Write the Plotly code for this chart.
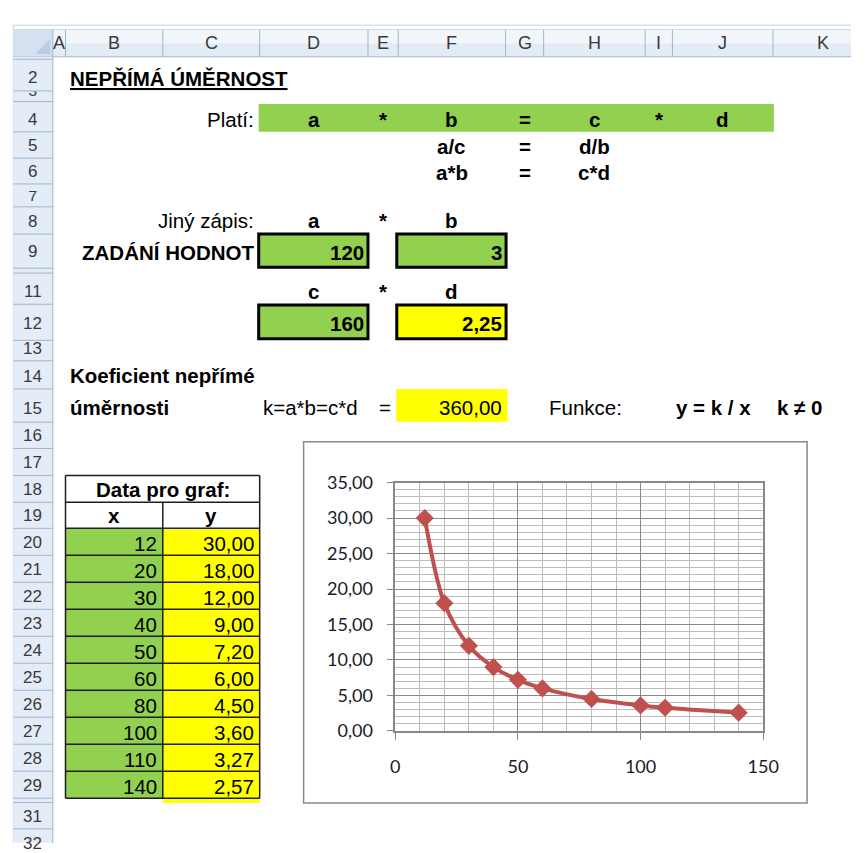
import plotly.graph_objects as go

W, H = 867, 853

# ---------------- data ----------------
x_values = [12, 20, 30, 40, 50, 60, 80, 100, 110, 140]
y_values = [30.00, 18.00, 12.00, 9.00, 7.20, 6.00, 4.50, 3.60, 3.27, 2.57]
a_val = 120
b_val = 3
c_val = 160
d_val = 2.25
k_val = 360.00
column_letters = ["A", "B", "C", "D", "E", "F", "G", "H", "I", "J", "K"]
x_tick_values = [0, 50, 100, 150]
y_tick_values = [0, 5, 10, 15, 20, 25, 30, 35]


def cz(v, dec=2):
    return f"{v:.{dec}f}".replace(".", ",")


# ---------------- sheet geometry (pixels) ----------------
COL_EDGES = [49, 62, 161.7, 261, 372, 403, 513, 552, 656, 684, 787, 890]
COL = {L: (COL_EDGES[i], COL_EDGES[i + 1]) for i, L in enumerate(column_letters)}


def cc(L):
    return (COL[L][0] + COL[L][1]) / 2


ROW = {1: (46, 48.5), 2: (48.5, 81), 3: (81, 92), 4: (92, 123), 5: (123, 150), 6: (150, 176.5),
       7: (176.5, 200), 8: (200, 228), 9: (228, 263), 10: (263, 268), 11: (268, 300), 12: (300, 337),
       13: (337, 358), 14: (358, 387), 15: (387, 421), 16: (421, 448), 17: (448, 475.7),
       18: (475.7, 503.3), 19: (503.3, 530)}
for r in range(20, 30):
    ROW[r] = (530 + 27.7 * (r - 20), 530 + 27.7 * (r - 19))
ROW[30] = (807, 811.5)
ROW[31] = (811.5, 838.5)
ROW[32] = (838.5, 866)

GREEN = "#92D050"
YELLOW = "#FFFF00"
HDR_LINE = "#9EB6CE"
CELL_FONT = "Liberation Sans, Arial, sans-serif"
HDR_TXT = "#3a3a3a"


def px(x):
    return x / W


def py(y):
    return 1 - y / H


shapes = []
annotations = []


def rect(x0, y0, x1, y1, fill=None, line=None, lw=1):
    shapes.append(dict(type="rect", xref="paper", yref="paper",
                       x0=px(x0), x1=px(x1), y0=py(y1), y1=py(y0),
                       fillcolor=fill or "rgba(0,0,0,0)",
                       line=dict(color=line or "rgba(0,0,0,0)", width=lw if line else 0),
                       layer="below"))


def hline(x0, x1, y, color, lw=1):
    shapes.append(dict(type="line", xref="paper", yref="paper", x0=px(x0), x1=px(x1),
                       y0=py(y), y1=py(y), line=dict(color=color, width=lw), layer="below"))


def vline(x, y0, y1, color, lw=1):
    shapes.append(dict(type="line", xref="paper", yref="paper", x0=px(x), x1=px(x),
                       y0=py(y0), y1=py(y1), line=dict(color=color, width=lw), layer="below"))


def text(x, y, s, anchor="center", size=20.5, bold=False, color="#000000", family=CELL_FONT):
    if bold:
        s = f"<b>{s}</b>"
    annotations.append(dict(x=px(x), y=py(y), xref="paper", yref="paper", text=s, showarrow=False,
                            xanchor=anchor, yanchor="middle", borderpad=0,
                            font=dict(family=family, size=size, color=color)))


# ---------------- window chrome: headers ----------------
hline(8.5, W, 13.5, "#C5D2E3")
vline(8.5, 13.5, H, "#C5D2E3")
rect(49, 18, W, 32, fill="#F2F6FB")
rect(49, 32, W, 46, fill="#E3EBF6")
rect(8.5, 18, 49, 46, fill="#D5E1F0")
shapes.append(dict(type="path", xref="paper", yref="paper", layer="below",
                   path=f"M {px(46.5)} {py(27)} L {px(46.5)} {py(43)} L {px(31)} {py(43)} Z",
                   fillcolor="#BBCDE5", line=dict(width=0)))
for e in COL_EDGES[:-1]:
    vline(e, 18, 46, HDR_LINE)
hline(8.5, W, 18, "#D0DCEA")
hline(8.5, W, 46, HDR_LINE)
for L in column_letters:
    text(cc(L), 32, L, size=18, color=HDR_TXT)

rect(8.5, 46, 49, H, fill="#E4ECF7")
vline(49, 46, H, HDR_LINE)
for r, (t, b) in ROW.items():
    hline(8.5, 49, b, HDR_LINE)

label_offset = {2: 14, 9: 17, 12: 17.5, 15: 14.5}
clipped_rows = [3, 7]
for r, (t, b) in ROW.items():
    if r in (1, 10, 30) or r in clipped_rows:
        continue
    text(28.5, b - label_offset.get(r, 13), str(r), size=17, color=HDR_TXT)

# ---------------- cell contents ----------------
text(66, 68.5, "<u>NEPŘÍMÁ ÚMĚRNOST</u>", anchor="left", bold=True)

# row 4
rect(260, 94.5, 788, 123, fill=GREEN)
text(256, 110, "Platí:", anchor="right")
for L, s in zip(["D", "E", "F", "G", "H", "I", "J"], ["a", "*", "b", "=", "c", "*", "d"]):
    text(cc(L), 110, s, bold=True)
# rows 5, 6
for L, s in zip(["F", "G", "H"], ["a/c", "=", "d/b"]):
    text(cc(L), 138, s, bold=True)
for L, s in zip(["F", "G", "H"], ["a*b", "=", "c*d"]):
    text(cc(L), 165, s, bold=True)
# row 8
text(256, 214.5, "Jiný zápis:", anchor="right")
for L, s in zip(["D", "E", "F"], ["a", "*", "b"]):
    text(cc(L), 214.5, s, bold=True)
# row 9
text(256, 247, "ZADÁNÍ HODNOT", anchor="right", bold=True)
rect(260, 228, 372, 262, fill=GREEN, line="#000000", lw=3)
rect(401.5, 228, 513.5, 262, fill=GREEN, line="#000000", lw=3)
text(368.5, 246.5, str(a_val), anchor="right", bold=True)
text(510, 246.5, str(b_val), anchor="right", bold=True)
# row 11
for L, s in zip(["D", "E", "F"], ["c", "*", "d"]):
    text(cc(L), 287, s, bold=True)
# row 12
rect(260, 300.7, 372, 335.3, fill=GREEN, line="#000000", lw=3)
rect(401.5, 300.7, 513.5, 335.3, fill=YELLOW, line="#000000", lw=3)
text(368.5, 319.5, str(c_val), anchor="right", bold=True)
text(510, 319.5, cz(d_val), anchor="right", bold=True)
# rows 14, 15
text(66, 373, "Koeficient nepřímé", anchor="left", bold=True)
text(66, 405.5, "úměrnosti", anchor="left", bold=True)
text(263, 405.5, "k=a*b=c*d", anchor="left")
text(cc("E") + 2, 405.5, "=")
rect(401, 387, 515, 420.5, fill=YELLOW)
text(510, 405.5, cz(k_val), anchor="right")
text(556, 405.5, "Funkce:", anchor="left")
text(687, 405.5, "y = k / x", anchor="left", bold=True)
text(790, 405.5, "k ≠ 0", anchor="left", bold=True)

# ---------------- data table ----------------
tx0, tx1, txm = COL["B"][0], COL["C"][1], COL["B"][1]
rect(tx0, ROW[18][0], tx1, ROW[19][1], fill="#FFFFFF")
rect(tx0, ROW[20][0], txm, ROW[29][1], fill=GREEN)
rect(txm, ROW[20][0], tx1, ROW[30][1] + 0.5, fill=YELLOW)
TB = "#1e1e1e"
for r in range(18, 30):
    hline(tx0, tx1, ROW[r][0], TB, 1.5)
hline(tx0, tx1, ROW[29][1], TB, 1.5)
vline(tx0, ROW[18][0], ROW[29][1], TB, 1.5)
vline(tx1, ROW[18][0], ROW[29][1], TB, 1.5)
vline(txm, ROW[19][0], ROW[29][1], TB, 1.5)
text((tx0 + tx1) / 2, (ROW[18][0] + ROW[18][1]) / 2 + 0.5, "Data pro graf:", bold=True)
text((tx0 + txm) / 2, (ROW[19][0] + ROW[19][1]) / 2 + 0.5, "x", bold=True)
text((txm + tx1) / 2, (ROW[19][0] + ROW[19][1]) / 2 + 0.5, "y", bold=True)
for i, (xv, yv) in enumerate(zip(x_values, y_values)):
    t, b = ROW[20 + i]
    yc = (t + b) / 2 + 1.8
    text(txm - 4.5, yc, str(xv), anchor="right")
    text(tx1 - 4.5, yc, cz(yv), anchor="right")

# ---------------- chart ----------------
rect(306, 441, 822, 812, fill="#FFFFFF", line="#8a8a8a", lw=1.5)

MAJ = "#898989"
MIN = "#bcbcbc"
TICKFONT = dict(family="Lato, Carlito, Calibri, sans-serif", size=18, color="#1a1a2a")

fig = go.Figure()
fig.add_trace(go.Scatter(
    x=x_values, y=y_values, mode="lines+markers",
    line=dict(color="#C0504D", width=4, shape="spline", smoothing=0.9),
    marker=dict(symbol="diamond", size=14, color="#C0504D"),
    xaxis="x", yaxis="y", cliponaxis=False, hoverinfo="skip"))

# clipped row-number labels (rows 3 and 7): text clipped to the row's height
for k, r in enumerate(clipped_rows):
    t, b = ROW[r]
    n = k + 2
    fig.add_trace(go.Scatter(x=[28.5], y=[b - 9.5], mode="text", text=[str(r)],
                             textposition="middle center",
                             textfont=dict(family=CELL_FONT, size=15.5, color=HDR_TXT),
                             xaxis=f"x{n}", yaxis=f"y{n}", cliponaxis=True, hoverinfo="skip"))
    fig.layout[f"xaxis{n}"] = dict(domain=[px(9), px(48.5)], range=[9, 48.5], visible=False,
                                   fixedrange=True, anchor=f"y{n}")
    fig.layout[f"yaxis{n}"] = dict(domain=[py(b - 0.6), py(t + 0.6)], range=[b - 0.6, t + 0.6],
                                   visible=False, fixedrange=True, anchor=f"x{n}")

fig.update_layout(
    width=W, height=H, margin=dict(l=0, r=0, t=0, b=0),
    paper_bgcolor="#FFFFFF", plot_bgcolor="rgba(0,0,0,0)",
    showlegend=False, separators=", ",
    shapes=shapes, annotations=annotations,
    xaxis=dict(domain=[px(400), px(777)], range=[0, 150], tickvals=x_tick_values,
               showgrid=True, gridcolor=MAJ, gridwidth=1.3,
               minor=dict(dtick=10, tick0=0, showgrid=True, gridcolor=MIN, gridwidth=1.3),
               showline=True, linecolor=MAJ, linewidth=1.5, mirror=True,
               ticks="outside", ticklen=7, tickcolor=MAJ, tickwidth=1.3,
               zeroline=False, tickfont=TICKFONT, ticklabelstandoff=12,
               fixedrange=True, anchor="y"),
    yaxis=dict(domain=[py(738), py(483)], range=[0, 35], tickvals=y_tick_values,
               tickformat=".2f",
               showgrid=True, gridcolor=MAJ, gridwidth=1.3,
               minor=dict(dtick=1, tick0=0, showgrid=True, gridcolor=MIN, gridwidth=1.3),
               showline=True, linecolor=MAJ, linewidth=1.5, mirror=True,
               ticks="outside", ticklen=7, tickcolor=MAJ, tickwidth=1.3,
               zeroline=False, tickfont=TICKFONT, ticklabelstandoff=10,
               fixedrange=True, anchor="x"),
)

fig.write_html("out.html", config={"displayModeBar": False})
